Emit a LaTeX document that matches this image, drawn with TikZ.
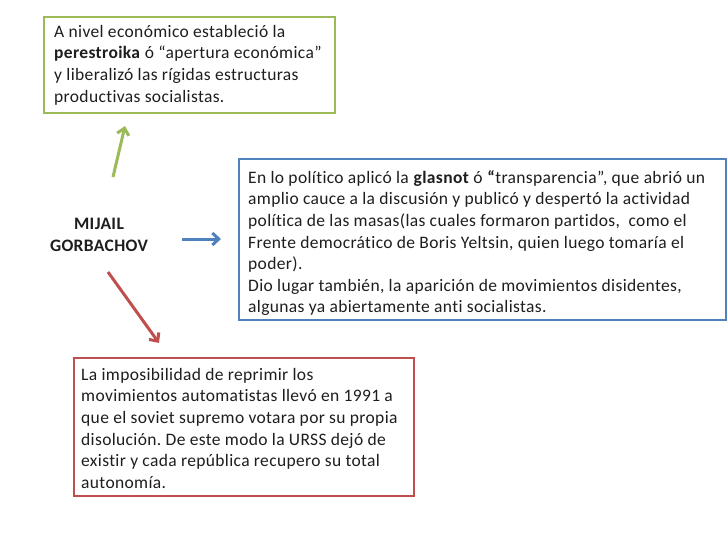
\documentclass[tikz,border=0pt]{standalone}
\usepackage{fontspec}
\setmainfont{Carlito}[LetterSpace=2,Ligatures={NoCommon},RawFeature={-liga}]
\usetikzlibrary{arrows.meta}
\definecolor{ogreen}{RGB}{155,187,89}
\definecolor{oblue}{RGB}{79,129,189}
\definecolor{ored}{RGB}{192,80,77}
\definecolor{txt}{RGB}{30,30,30}
\frenchspacing
\tikzset{
  boxtext/.style={anchor=north west, inner sep=0pt, align=left, text=txt,
    font=\fontsize{17.5}{21.6}\selectfont},
  frame/.style={draw=#1, line width=2pt, fill=white},
  conn/.style={draw=#1, line width=3pt, -{Straight Barb[length=6.5pt,width=12pt,line width=3pt]}},
}
\begin{document}
\begin{tikzpicture}[x=1pt,y=-1pt]
\useasboundingbox (0,0) rectangle (728,546);
\fill[white] (0,0) rectangle (728,546);
% boxes
\draw[frame=ogreen] (44,17) rectangle (335,113);
\draw[frame=oblue] (239,159) rectangle (726,320);
\draw[frame=ored] (74,358) rectangle (414,496);
% texts
\node[boxtext] (green) at (54,22) {\strut A nivel económico estableció la\\
\textbf{perestroika} ó “apertura económica”\\
y liberalizó las rígidas estructuras\\
productivas socialistas.};
\node[boxtext] (blue) at (248,168) {\strut En lo político aplicó la \textbf{glasnot} ó \textbf{“}transparencia”, que abrió un\\
amplio cauce a la discusión y publicó y despertó la actividad\\
política de las masas(las cuales formaron partidos,\ \ como el\\
Frente democrático de Boris Yeltsin, quien luego tomaría el\\
poder).\\
Dio lugar también, la aparición de movimientos disidentes,\\
algunas ya abiertamente anti socialistas.};
\node[boxtext] (red) at (81,365) {\strut La imposibilidad de reprimir los\\
movimientos automatistas llevó en 1991 a\\
que el soviet supremo votara por su propia\\
disolución. De este modo la URSS dejó de\\
existir y cada república recupero su total\\
autonomía.};
\node[inner sep=0pt, align=center, text=txt, font=\fontsize{17.5}{21.6}\selectfont\bfseries] (gorb) at (99,235) {MIJAIL\\GORBACHOV};
% connectors
\coordinate (g1) at (113,177);
\coordinate (g2) at (125,126);
\coordinate (b1) at (182,239);
\coordinate (b2) at (221,239);
\coordinate (r1) at (108,272);
\coordinate (r2) at (159,343);
\draw[conn=ogreen] (g1) -- (g2);
\draw[conn=oblue] (b1) -- (b2);
\draw[conn=ored] (r1) -- (r2);
\end{tikzpicture}
\end{document}
